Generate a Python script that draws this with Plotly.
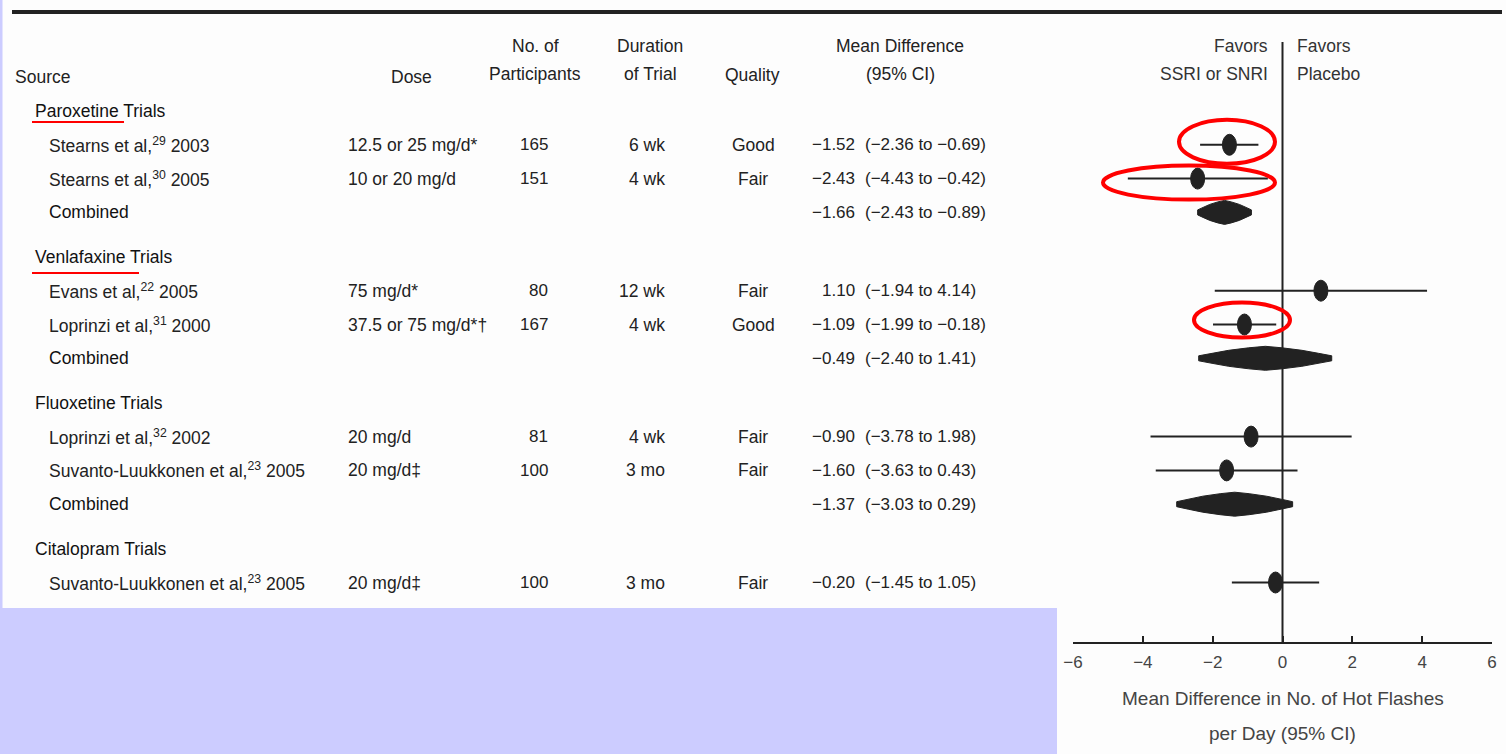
import plotly.graph_objects as go

# ---------------- table content ----------------
group_names = ["Paroxetine Trials", "Venlafaxine Trials", "Fluoxetine Trials", "Citalopram Trials"]

study_group = [0, 0, 0, 1, 1, 1, 2, 2, 2, 3]
study_source = [
    "Stearns et al,<sup>29</sup> 2003",
    "Stearns et al,<sup>30</sup> 2005",
    "Combined",
    "Evans et al,<sup>22</sup> 2005",
    "Loprinzi et al,<sup>31</sup> 2000",
    "Combined",
    "Loprinzi et al,<sup>32</sup> 2002",
    "Suvanto-Luukkonen et al,<sup>23</sup> 2005",
    "Combined",
    "Suvanto-Luukkonen et al,<sup>23</sup> 2005",
]
study_dose = ["12.5 or 25 mg/d*", "10 or 20 mg/d", "", "75 mg/d*", "37.5 or 75 mg/d*†", "",
              "20 mg/d", "20 mg/d‡", "", "20 mg/d‡"]
study_n = ["165", "151", "", "80", "167", "", "81", "100", "", "100"]
study_duration = ["6 wk", "4 wk", "", "12 wk", "4 wk", "", "4 wk", "3 mo", "", "3 mo"]
study_quality = ["Good", "Fair", "", "Fair", "Good", "", "Fair", "Fair", "", "Fair"]
is_pooled = [False, False, True, False, False, True, False, False, True, False]

mean_diff = [-1.52, -2.43, -1.66, 1.10, -1.09, -0.49, -0.90, -1.60, -1.37, -0.20]
ci_low = [-2.36, -4.43, -2.43, -1.94, -1.99, -2.40, -3.78, -3.63, -3.03, -1.45]
ci_high = [-0.69, -0.42, -0.89, 4.14, -0.18, 1.41, 1.98, 0.43, 0.29, 1.05]

x_ticks = [-6, -4, -2, 0, 2, 4, 6]
x_title_lines = ["Mean Difference in No. of Hot Flashes", "per Day (95% CI)"]

# ---------------- page geometry ----------------
W, H = 1506, 754
AX_LEFT, AX_RIGHT = 1073, 1492          # forest axis extent in px
AX_Y = 643                              # forest axis line (px from top)
X_MIN, X_MAX = -6, 6
PX_PER_UNIT = (AX_RIGHT - AX_LEFT) / (X_MAX - X_MIN)

FONT = "Liberation Sans, Arial, sans-serif"
TXT = "#222222"
SIZE = 17.5
NUM_SIZE = 17
INK = "#222222"


def px(x):
    return x / W


def fmt(v):
    return f"{v:.2f}".replace("-", "\u2212")


# row positions (y measured in px from top via reversed y axis)
FIRST_ROW, ROW_STEP, GROUP_GAP = 111, 33.8, 44.5
group_y = []
study_y = []
y = FIRST_ROW
for g in range(len(group_names)):
    if g > 0:
        y += GROUP_GAP
    group_y.append(y)
    for i, sg in enumerate(study_group):
        if sg == g:
            y += ROW_STEP
            study_y.append(y)

fig = go.Figure()
annotations = []
shapes = []


def add_text(x, yv, text, anchor="left", size=SIZE, color=TXT):
    annotations.append(dict(
        x=px(x), y=yv, xref="paper", yref="y", text=text, showarrow=False,
        xanchor=anchor, yanchor="middle", font=dict(family=FONT, size=size, color=color),
    ))


# background panels
shapes.append(dict(type="rect", xref="paper", yref="y", x0=0, x1=px(1057), y0=608, y1=H,
                   fillcolor="#ccccff", line_width=0, layer="below"))
shapes.append(dict(type="rect", xref="paper", yref="y", x0=0, x1=px(2.5), y0=0, y1=H,
                   fillcolor="#ccccff", line_width=0, layer="below"))

# top rule
shapes.append(dict(type="line", xref="paper", yref="y", x0=px(12), x1=px(1502), y0=12, y1=12,
                   line=dict(color=INK, width=4)))

# column headers
add_text(13, 77, "Source")
add_text(412, 77, "Dose", "center")
add_text(535, 46, "No. of", "center")
add_text(535, 74, "Participants", "center")
add_text(650, 46, "Duration", "center")
add_text(650, 74, "of Trial", "center")
add_text(752, 75, "Quality", "center")
add_text(900, 46, "Mean Difference", "center")
add_text(900, 74, "(95% CI)", "center")
add_text(1270, 46, "Favors", "right", color="#333")
add_text(1270, 74, "SSRI or SNRI", "right", color="#333")
add_text(1295, 46, "Favors", "left", color="#333")
add_text(1295, 74, "Placebo", "left", color="#333")

# group headings
for g, name in enumerate(group_names):
    add_text(33, group_y[g], name, color="#111")

# study rows
for i in range(len(study_source)):
    yv = study_y[i]
    add_text(47, yv, study_source[i], color="#111" if is_pooled[i] else TXT)
    if study_dose[i]:
        add_text(346, yv, study_dose[i])
    if study_n[i]:
        add_text(550, yv, study_n[i], "right", size=NUM_SIZE)
    if study_duration[i]:
        add_text(667, yv, study_duration[i], "right")
    if study_quality[i]:
        add_text(753, yv, study_quality[i], "center")
    add_text(857, yv, fmt(mean_diff[i]), "right", size=NUM_SIZE)
    add_text(863, yv, f"({fmt(ci_low[i])} to {fmt(ci_high[i])})", "left", size=NUM_SIZE)

# confidence interval whiskers for individual trials
wx, wy = [], []
for i in range(len(mean_diff)):
    if not is_pooled[i]:
        wx += [ci_low[i], ci_high[i], None]
        wy += [study_y[i], study_y[i], None]
fig.add_trace(go.Scatter(x=wx, y=wy, mode="lines", line=dict(color=INK, width=2),
                         hoverinfo="skip", showlegend=False))

# point estimates (upright ovals)
half_w = 7 / PX_PER_UNIT
half_h = 10.5
for i in range(len(mean_diff)):
    if not is_pooled[i]:
        shapes.append(dict(type="circle", xref="x", yref="y",
                           x0=mean_diff[i] - half_w, x1=mean_diff[i] + half_w,
                           y0=study_y[i] - half_h, y1=study_y[i] + half_h,
                           fillcolor=INK, line=dict(color=INK, width=1)))

# pooled estimates: lens-shaped band spanning the CI
profile = [(1.0, 2.5), (0.8, 5.0), (0.55, 8.0), (0.25, 10.5), (0.0, 12.0)]
for i in range(len(mean_diff)):
    if is_pooled[i]:
        est, lo, hi, yv = mean_diff[i], ci_low[i], ci_high[i], study_y[i]
        top = [(est - f * (est - lo), yv - h) for f, h in profile]
        top += [(est + f * (hi - est), yv - h) for f, h in reversed(profile[:-1])]
        bottom = [(x, 2 * yv - yy) for x, yy in reversed(top)]
        pts = top + bottom
        fig.add_trace(go.Scatter(x=[p[0] for p in pts] + [pts[0][0]],
                                 y=[p[1] for p in pts] + [pts[0][1]],
                                 mode="lines", fill="toself", fillcolor=INK,
                                 line=dict(color=INK, width=1),
                                 hoverinfo="skip", showlegend=False))

# line of no effect
shapes.append(dict(type="line", xref="x", yref="y", x0=0, x1=0, y0=42, y1=AX_Y,
                   line=dict(color=INK, width=2)))

# highlight marks
red = "#ff0000"
shapes.append(dict(type="circle", xref="paper", yref="y", x0=px(1179), x1=px(1275),
                   y0=study_y[0] - 25, y1=study_y[0] + 19, line=dict(color=red, width=4)))
shapes.append(dict(type="circle", xref="paper", yref="y", x0=px(1103), x1=px(1275),
                   y0=study_y[1] - 13, y1=study_y[1] + 21, line=dict(color=red, width=4)))
shapes.append(dict(type="circle", xref="paper", yref="y", x0=px(1194), x1=px(1290),
                   y0=study_y[4] - 22, y1=study_y[4] + 13, line=dict(color=red, width=4)))
shapes.append(dict(type="line", xref="paper", yref="y", x0=px(32), x1=px(124),
                   y0=group_y[0] + 11, y1=group_y[0] + 11, line=dict(color=red, width=2)))
shapes.append(dict(type="line", xref="paper", yref="y", x0=px(32), x1=px(139),
                   y0=group_y[1] + 16, y1=group_y[1] + 16, line=dict(color=red, width=2)))

# axis title
add_text((AX_LEFT + AX_RIGHT) / 2, 698, x_title_lines[0], "center", size=19, color="#444")
add_text((AX_LEFT + AX_RIGHT) / 2, 733, x_title_lines[1], "center", size=19, color="#444")

fig.update_layout(
    width=W, height=H,
    margin=dict(l=0, r=0, t=0, b=0, autoexpand=False),
    paper_bgcolor="#fdfdfd", plot_bgcolor="rgba(0,0,0,0)",
    showlegend=False,
    xaxis=dict(domain=[px(AX_LEFT), px(AX_RIGHT)], range=[X_MIN, X_MAX],
               anchor="free", position=1 - AX_Y / H,
               showline=True, linecolor=INK, linewidth=2,
               ticks="inside", ticklen=6, tickwidth=2, tickcolor=INK,
               tickvals=x_ticks, showgrid=False, zeroline=False,
               tickfont=dict(family=FONT, size=17, color="#444"),
               ticklabelstandoff=4, fixedrange=True, automargin=False),
    yaxis=dict(domain=[0, 1], range=[H, 0], visible=False, fixedrange=True, automargin=False),
    annotations=annotations,
    shapes=shapes,
)

fig.write_html("out.html")
